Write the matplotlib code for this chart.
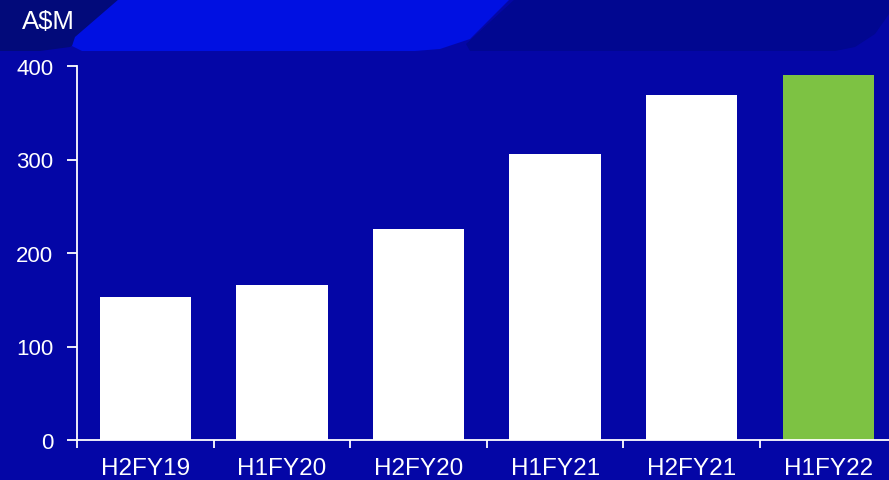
import matplotlib.pyplot as plt
from matplotlib.patches import Polygon

plt.rcParams['font.family'] = ['Liberation Sans', 'DejaVu Sans']

periods = ['H2FY19', 'H1FY20', 'H2FY20', 'H1FY21', 'H2FY21', 'H1FY22']
revenue = [153, 166, 226, 306, 369, 390]
bar_colors = ['white', 'white', 'white', 'white', 'white', '#7DC243']
y_ticks = [0, 100, 200, 300, 400]

W, H = 889, 481
fig = plt.figure(figsize=(W / 100, H / 100), dpi=100)
fig.patch.set_facecolor('#0406A6')


def px(points):
    # pixel coords (from top-left) -> figure fraction
    return [(x / W, 1 - y / H) for x, y in points]


# decorative header shapes
fig.patches.append(Polygon(px([(0, 0), (119, 0), (95, 30), (70, 48), (40, 52), (0, 52)]),
                           closed=True, transform=fig.transFigure,
                           facecolor='#020A7A', edgecolor='none', zorder=0))
fig.patches.append(Polygon(px([(119, 0), (510, 0), (470, 40), (440, 50), (415, 52),
                               (82, 52), (72, 47), (75, 38)]),
                           closed=True, transform=fig.transFigure,
                           facecolor='#0010E2', edgecolor='none', zorder=0))
fig.patches.append(Polygon(px([(515, 0), (889, 0), (889, 15), (875, 35), (855, 48),
                               (835, 52), (470, 52), (466, 45)]),
                           closed=True, transform=fig.transFigure,
                           facecolor='#010790', edgecolor='none', zorder=0))

left = 77 / W
bottom = (H - 441) / H
height = (441 - 67) / H
width = 6 * 136.6 / W
ax = fig.add_axes([left, bottom, width, height])
ax.set_facecolor('none')

x = range(len(periods))
ax.bar(x, revenue, width=0.67, color=bar_colors, zorder=2)

ax.set_xlim(-0.5, 5.5)
ax.set_ylim(0, 400)
ax.set_yticks(y_ticks)
ax.set_xticks([i + 0.5 for i in range(-1, 6)], minor=False)
ax.set_xticklabels([])
ax.set_xticks(list(x), minor=True)
ax.set_xticklabels(periods, minor=True)

for s in ['top', 'right']:
    ax.spines[s].set_visible(False)
for s in ['left', 'bottom']:
    ax.spines[s].set_color('white')
    ax.spines[s].set_linewidth(1.3)

ax.tick_params(axis='y', colors='white', labelsize=16, length=7, width=1.3, pad=10)
ax.tick_params(axis='x', which='major', colors='white', length=6, width=1.3)
ax.tick_params(axis='x', which='minor', colors='white', labelsize=17.5, length=0, pad=12)

fig.text(22 / W, 1 - 22 / H, 'A$M', color='white', fontsize=18.5, va='center', ha='left')

fig.savefig('out.png', dpi=100, facecolor=fig.get_facecolor())
